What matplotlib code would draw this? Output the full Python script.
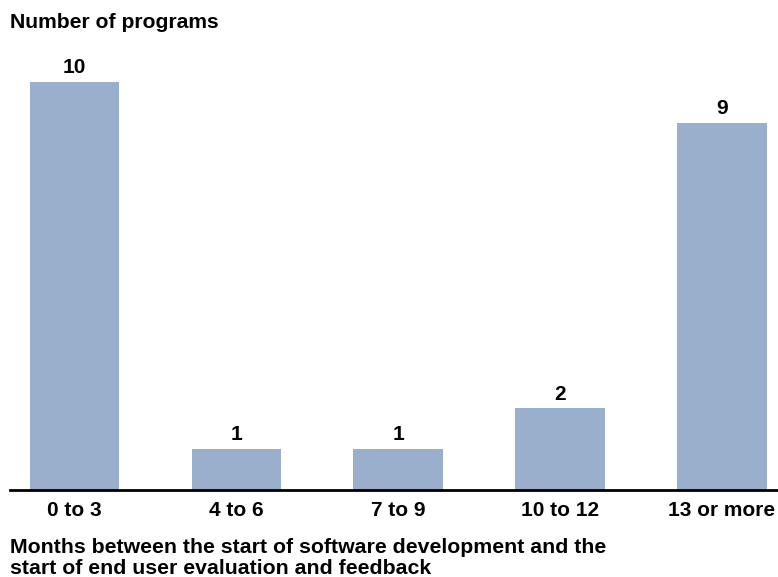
import matplotlib
matplotlib.use("Agg")
import matplotlib.pyplot as plt

categories = ["0 to 3", "4 to 6", "7 to 9", "10 to 12", "13 or more"]
programs = [10, 1, 1, 2, 9]

plt.rcParams['font.family'] = ['Liberation Sans', 'DejaVu Sans']
plt.rcParams['font.weight'] = 'bold'

fig = plt.figure(figsize=(7.78, 5.77), dpi=100)
W, H = 778, 577
ax = fig.add_axes([10 / W, 1 - 490 / H, 1 - 10 / W, (490 - 41.2) / H])

x = list(range(len(categories)))
bars = ax.bar(x, programs, width=0.555, color='#9aafcc')
ax.set_xlim(-0.399, 4.346)
ax.set_ylim(0, 11)

for xi, v in zip(x, programs):
    ax.text(xi, v + 0.12, str(v), ha='center', va='bottom', fontsize=15, fontweight='bold')

ax.set_xticks(x)
ax.set_xticklabels(categories, fontsize=15, fontweight='bold')
ax.tick_params(axis='x', length=0, pad=8)
ax.set_yticks([])
for s in ['top', 'right', 'left']:
    ax.spines[s].set_visible(False)
ax.spines['bottom'].set_linewidth(2)

fig.text(10 / W, 1 - 23 / H, "Number of programs", fontsize=15.2, fontweight='bold', va='center', ha='left')
fig.text(10 / W, 1 - 558 / H, "Months between the start of software development and the\nstart of end user evaluation and feedback",
         fontsize=15.3, fontweight='bold', va='center', ha='left', linespacing=1.08)

fig.savefig("out.png", dpi=100)
